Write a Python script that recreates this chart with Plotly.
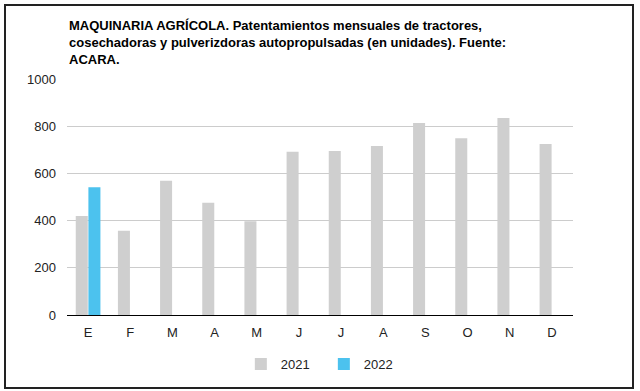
import plotly.graph_objects as go

months = ["E", "F", "M", "A", "M ", "J", "J ", "A ", "S", "O", "N", "D"]
tick_labels = ["E", "F", "M", "A", "M", "J", "J", "A", "S", "O", "N", "D"]
vals_2021 = [419, 357, 569, 476, 397, 692, 695, 716, 814, 749, 835, 725]
vals_2022 = [541, None, None, None, None, None, None, None, None, None, None, None]
y_ticks = [0, 200, 400, 600, 800, 1000]

title = ("MAQUINARIA AGRÍCOLA. Patentamientos mensuales de tractores,<br>"
         "cosechadoras y pulverizdoras autopropulsadas (en unidades). Fuente:<br>"
         "ACARA.")

FONT = "Liberation Sans, Arial, sans-serif"
L, R, T, B = 67, 67, 79, 76
PW, PH = 640 - L - R, 391 - T - B

fig = go.Figure()
fig.add_trace(go.Bar(x=months, y=vals_2021, name="2021", marker_color="#cfcfcf",
                     marker_line_width=0))
fig.add_trace(go.Bar(x=months, y=vals_2022, name="2022", marker_color="#4cc2ee",
                     marker_line_width=0))

fig.update_layout(
    width=640, height=391,
    margin=dict(l=L, r=R, t=T, b=B, autoexpand=False),
    paper_bgcolor="white", plot_bgcolor="white",
    barmode="group", bargap=0.4, bargroupgap=0.05,
    font=dict(family=FONT, size=13, color="#222222"),
    showlegend=True,
    legend=dict(orientation="h", xref="container", yref="container",
                x=0.506, xanchor="center", y=1 - 364 / 391, yanchor="middle",
                font=dict(size=13, color="#222222"), itemwidth=30,
                entrywidth=38, traceorder="normal", bgcolor="rgba(0,0,0,0)"),
    xaxis=dict(tickmode="array", tickvals=months, ticktext=tick_labels,
               showgrid=False, showline=True, linecolor="black", linewidth=1,
               ticks="", automargin=False, ticklabelstandoff=5,
               tickfont=dict(size=13, color="#222222")),
    yaxis=dict(range=[0, 1000], tickvals=y_ticks, showgrid=True,
               gridcolor="#cccccc", gridwidth=1, zeroline=False,
               ticks="", automargin=False, ticklabelstandoff=10,
               tickfont=dict(size=13, color="#222222")),
    annotations=[dict(text=title, xref="paper", yref="paper", x=0, y=1.0,
                      xanchor="left", yanchor="bottom", align="left",
                      showarrow=False, yshift=10,
                      font=dict(family=FONT, size=13, color="black", weight="bold"))],
    shapes=[dict(type="rect", xref="paper", yref="paper",
                 x0=(5 - L) / PW, x1=(633 - L) / PW,
                 y0=(315 - 388) / PH, y1=(315 - 5) / PH,
                 line=dict(color="#222222", width=2), fillcolor="rgba(0,0,0,0)")],
)

fig.write_html("out.html", config={"displayModeBar": False},
               post_script="document.body.style.margin='0';")
